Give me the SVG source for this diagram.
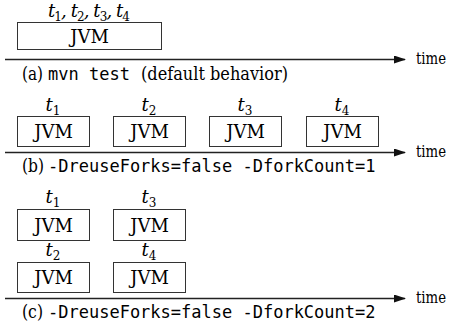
<svg xmlns="http://www.w3.org/2000/svg" width="450" height="328" viewBox="0 0 450 328">
<style>
.box{fill:#fff;stroke:#333;stroke-width:1}
.axis{stroke:#222;stroke-width:1.3;fill:none}
.jvm{font-size:18px;text-anchor:middle;fill:#000}
.ti{font-style:italic;font-size:18px;fill:#000}
.sub{font-style:normal;font-size:12px}
.mono{font-family:"DejaVu Sans Mono","Liberation Mono",monospace;font-size:17px;fill:#000}
.cap{font-family:"DejaVu Serif Condensed","DejaVu Serif",serif;font-size:18px;fill:#000}
.time{font-family:"DejaVu Serif Condensed","DejaVu Serif",serif;font-size:16px;fill:#000}
</style>
<defs>
<marker id="arr" markerWidth="12" markerHeight="8" refX="11" refY="4" orient="auto" markerUnits="userSpaceOnUse">
<path d="M0,0 L12,4 L0,8 Z" fill="#111"/>
</marker>
</defs>
<g id="connectors">
<line class="axis" x1="5" y1="59.5" x2="405" y2="59.5" marker-end="url(#arr)"/>
<line class="axis" x1="5" y1="152.5" x2="405" y2="152.5" marker-end="url(#arr)"/>
<line class="axis" x1="5" y1="298.5" x2="405" y2="298.5" marker-end="url(#arr)"/>
</g>
<g id="labels">
<text class="time" x="416" y="64" textLength="30" lengthAdjust="spacingAndGlyphs">time</text>
<text class="time" x="416" y="157" textLength="30" lengthAdjust="spacingAndGlyphs">time</text>
<text class="time" x="416" y="303" textLength="30" lengthAdjust="spacingAndGlyphs">time</text>
<text class="cap" x="22" y="80" textLength="21" lengthAdjust="spacingAndGlyphs">(a)</text>
<text class="mono" x="48" y="80">mvn test</text>
<text class="cap" x="141" y="80" textLength="147" lengthAdjust="spacingAndGlyphs">(default behavior)</text>
<text class="cap" x="22" y="172" textLength="22" lengthAdjust="spacingAndGlyphs">(b)</text>
<text class="mono" x="48" y="172">-DreuseForks=false -DforkCount=1</text>
<text class="cap" x="22" y="318" textLength="21" lengthAdjust="spacingAndGlyphs">(c)</text>
<text class="mono" x="48" y="318">-DreuseForks=false -DforkCount=2</text>
</g>
<g id="nodes" font-family="'DejaVu Serif', serif">
<g id="a-jvm">
<rect class="box" x="17.5" y="22.5" width="144" height="27"/>
<text class="jvm" x="89.5" y="42.5">JVM</text>
<text class="ti" x="48" y="17" textLength="82" lengthAdjust="spacing">t<tspan class="sub" dy="4">1</tspan><tspan dy="-4">, t</tspan><tspan class="sub" dy="4">2</tspan><tspan dy="-4">, t</tspan><tspan class="sub" dy="4">3</tspan><tspan dy="-4">, t</tspan><tspan class="sub" dy="4">4</tspan></text>
</g>
<g id="b-jvm1">
<rect class="box" x="17.5" y="116.5" width="72" height="30"/>
<text class="jvm" x="53.5" y="138">JVM</text>
<text class="ti" x="53" y="111" text-anchor="middle">t<tspan class="sub" dy="4">1</tspan></text>
</g>
<g id="b-jvm2">
<rect class="box" x="113.5" y="116.5" width="72" height="30"/>
<text class="jvm" x="149.5" y="138">JVM</text>
<text class="ti" x="149" y="111" text-anchor="middle">t<tspan class="sub" dy="4">2</tspan></text>
</g>
<g id="b-jvm3">
<rect class="box" x="209.5" y="116.5" width="72" height="30"/>
<text class="jvm" x="245.5" y="138">JVM</text>
<text class="ti" x="245" y="111" text-anchor="middle">t<tspan class="sub" dy="4">3</tspan></text>
</g>
<g id="b-jvm4">
<rect class="box" x="306.5" y="116.5" width="72" height="30"/>
<text class="jvm" x="342.5" y="138">JVM</text>
<text class="ti" x="342" y="111" text-anchor="middle">t<tspan class="sub" dy="4">4</tspan></text>
</g>
<g id="c-jvm1">
<rect class="box" x="17.5" y="209.5" width="72" height="31"/>
<text class="jvm" x="53.5" y="231.5">JVM</text>
<text class="ti" x="53" y="203" text-anchor="middle">t<tspan class="sub" dy="4">1</tspan></text>
</g>
<g id="c-jvm3">
<rect class="box" x="113.5" y="209.5" width="72" height="31"/>
<text class="jvm" x="149.5" y="231.5">JVM</text>
<text class="ti" x="149" y="203" text-anchor="middle">t<tspan class="sub" dy="4">3</tspan></text>
</g>
<g id="c-jvm2">
<rect class="box" x="17.5" y="262.5" width="72" height="30"/>
<text class="jvm" x="53.5" y="284">JVM</text>
<text class="ti" x="53" y="256" text-anchor="middle">t<tspan class="sub" dy="4">2</tspan></text>
</g>
<g id="c-jvm4">
<rect class="box" x="113.5" y="262.5" width="72" height="30"/>
<text class="jvm" x="149.5" y="284">JVM</text>
<text class="ti" x="149" y="256" text-anchor="middle">t<tspan class="sub" dy="4">4</tspan></text>
</g>
</g>
</svg>
